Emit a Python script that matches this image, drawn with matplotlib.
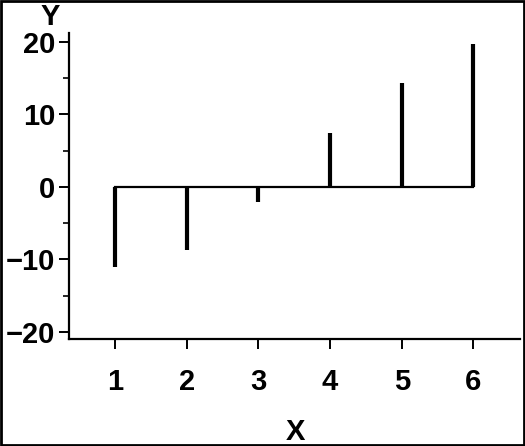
import numpy as np
import matplotlib.pyplot as plt
from matplotlib.ticker import MultipleLocator

plt.rcParams['font.family'] = ['Liberation Sans', 'DejaVu Sans']

x = [1, 2, 3, 4, 5, 6]
y = [-11.0, -8.7, -2.1, 7.5, 14.3, 19.8]

fig = plt.figure(figsize=(5.25, 4.46), dpi=100)
ax = fig.add_axes([69 / 525, (446 - 339) / 446, (520 - 69) / 525, (339 - 33) / 446])

markers, stems, base = ax.stem(x, y, linefmt='k-', markerfmt=' ', basefmt='k-')
stems.set_linewidth(3)
base.set_linewidth(1.6)

ax.set_xlim(0.36, 6.65)
ax.set_ylim(-21.0, 21.25)
ax.set_xticks(x)
ax.set_yticks([-20, -10, 0, 10, 20])
ax.yaxis.set_minor_locator(MultipleLocator(5))
ax.set_yticklabels(['\u221220', '\u221210', '0', '10', '20'])

for s in ['top', 'right']:
    ax.spines[s].set_visible(False)
for s in ['left', 'bottom']:
    ax.spines[s].set_linewidth(1.6)

ax.tick_params(axis='both', which='major', length=7, width=1.4, direction='out',
               labelsize=21)
ax.tick_params(axis='y', which='minor', length=4, width=1.2, direction='out')
ax.tick_params(axis='x', which='major', pad=14)
ax.tick_params(axis='y', which='major', pad=3)
for lab in ax.get_xticklabels() + ax.get_yticklabels():
    lab.set_fontweight('bold')

fig.text(50 / 525, 1 - 25 / 446, 'Y', ha='center', va='baseline', fontsize=21, fontweight='bold')
fig.text(295 / 525, 1 - 440 / 446, 'X', ha='center', va='baseline', fontsize=21, fontweight='bold')

border = plt.Rectangle((0.002, 0.002), 0.996, 0.996, transform=fig.transFigure,
                       fill=False, edgecolor='black', linewidth=2)
fig.patches.append(border)

fig.savefig('out.png', dpi=100)
